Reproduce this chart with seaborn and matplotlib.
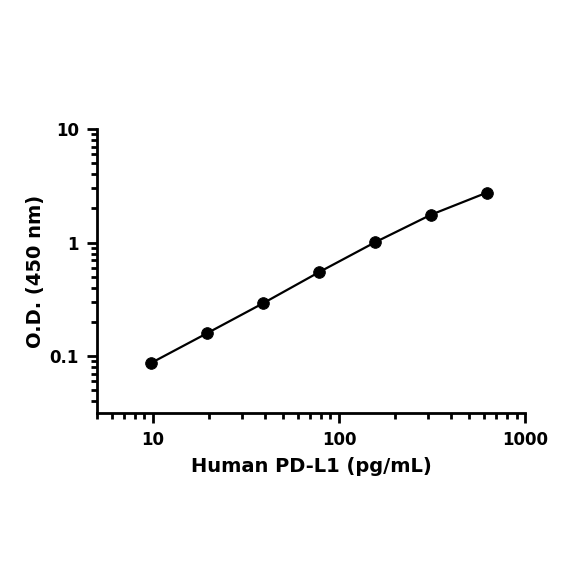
import numpy as np
import pandas as pd
import matplotlib
matplotlib.use("Agg")
import matplotlib.pyplot as plt
import matplotlib.ticker as mticker
import seaborn as sns

# standard curve values
concentracao = [9.77, 19.53, 39.06, 78.13, 156.25, 312.5, 625.0]
od_450 = [0.087, 0.159, 0.292, 0.549, 1.006, 1.76, 2.76]

df = pd.DataFrame({"conc": concentracao, "od": od_450})

sns.set_style("ticks")
plt.rcParams['font.family'] = ['DejaVu Sans']
plt.rcParams['text.color'] = 'black'
plt.rcParams['axes.labelcolor'] = 'black'
plt.rcParams['xtick.color'] = 'black'
plt.rcParams['ytick.color'] = 'black'

fig = plt.figure(figsize=(5.84, 5.84), dpi=100)
ax = fig.add_axes([0.166, 0.293, 0.733, 0.486])

sns.lineplot(x="conc", y="od", data=df, color="black", linewidth=1.6, ax=ax)
sns.scatterplot(x="conc", y="od", data=df, color="black", s=70, edgecolor="black", zorder=3, ax=ax)

ax.set_xscale("log")
ax.set_yscale("log")
ax.set_xlim(5, 1000)
ax.set_ylim(10 ** -1.5, 10)

ax.xaxis.set_major_locator(mticker.FixedLocator([10, 100, 1000]))
ax.xaxis.set_major_formatter(mticker.FixedFormatter(["10", "100", "1000"]))
ax.xaxis.set_minor_locator(mticker.LogLocator(base=10, subs=np.arange(2, 10)))
ax.xaxis.set_minor_formatter(mticker.NullFormatter())
ax.yaxis.set_major_locator(mticker.FixedLocator([0.1, 1, 10]))
ax.yaxis.set_major_formatter(mticker.FixedFormatter(["0.1", "1", "10"]))
ax.yaxis.set_minor_locator(mticker.LogLocator(base=10, subs=np.arange(2, 10)))
ax.yaxis.set_minor_formatter(mticker.NullFormatter())

for s in ["top", "right"]:
    ax.spines[s].set_visible(False)
for s in ["left", "bottom"]:
    ax.spines[s].set_linewidth(2)
    ax.spines[s].set_color("black")

ax.tick_params(which="major", length=7, width=2, color="black", labelsize=12, pad=6)
ax.tick_params(which="minor", length=4.5, width=2, color="black")
for lab in ax.get_xticklabels() + ax.get_yticklabels():
    lab.set_fontweight("semibold")

ax.set_xlabel("Human PD-L1 (pg/mL)", fontsize=14, fontweight="bold", labelpad=6)
ax.set_ylabel("O.D. (450 nm)", fontsize=14, fontweight="bold", labelpad=3)

fig.savefig("out.png", dpi=100, facecolor="white")
